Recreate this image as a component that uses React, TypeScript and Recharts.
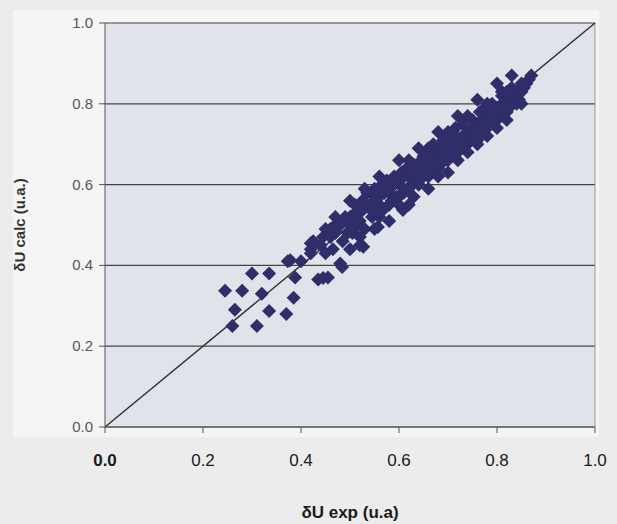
import { ScatterChart, Scatter, XAxis, YAxis, CartesianGrid, ReferenceLine } from 'recharts';

// lower-left scattered points
const outlierX = [0.245, 0.28, 0.30, 0.335, 0.32, 0.265, 0.26, 0.31, 0.335, 0.37, 0.385, 0.388, 0.373, 0.40, 0.435, 0.455, 0.48, 0.42, 0.378, 0.445, 0.484, 0.42, 0.527, 0.557, 0.608];
const outlierY = [0.337, 0.337, 0.38, 0.38, 0.33, 0.29, 0.25, 0.25, 0.287, 0.28, 0.32, 0.37, 0.41, 0.41, 0.365, 0.37, 0.405, 0.43, 0.413, 0.369, 0.396, 0.455, 0.446, 0.495, 0.537];

// main band along the diagonal
const bandX = [
  0.42, 0.425, 0.44, 0.445, 0.45, 0.46, 0.465, 0.47, 0.48, 0.485, 0.49, 0.495,
  0.50, 0.505, 0.51, 0.515, 0.52, 0.525, 0.53, 0.535, 0.54, 0.545, 0.55, 0.555,
  0.56, 0.565, 0.57, 0.575, 0.58, 0.585, 0.59, 0.595, 0.60, 0.605, 0.61, 0.615,
  0.62, 0.625, 0.63, 0.635, 0.64, 0.645, 0.65, 0.655, 0.66, 0.665, 0.67, 0.675,
  0.68, 0.685, 0.69, 0.695, 0.70, 0.705, 0.71, 0.715, 0.72, 0.725, 0.73, 0.735,
  0.74, 0.745, 0.75, 0.755, 0.76, 0.765, 0.77, 0.775, 0.78, 0.785, 0.79, 0.795,
  0.80, 0.805, 0.81, 0.815, 0.82, 0.825, 0.83, 0.835, 0.84, 0.845, 0.85, 0.855,
  0.86, 0.865, 0.87, 0.50, 0.52, 0.54, 0.56, 0.58, 0.60, 0.62, 0.64, 0.66,
  0.68, 0.70, 0.72, 0.74, 0.76, 0.78, 0.80, 0.82, 0.55, 0.57, 0.59, 0.61,
  0.63, 0.65, 0.67, 0.69, 0.71, 0.73, 0.75, 0.77, 0.79, 0.81, 0.83, 0.47,
  0.46, 0.49, 0.51, 0.53, 0.55, 0.57, 0.59, 0.61, 0.63, 0.65, 0.67, 0.69,
  0.71, 0.73, 0.75, 0.77, 0.79, 0.81, 0.83, 0.85, 0.52, 0.56, 0.60, 0.64,
  0.68, 0.72, 0.76, 0.80, 0.84, 0.58, 0.62, 0.66, 0.70, 0.74, 0.78, 0.82,
  0.50, 0.53, 0.56, 0.60, 0.64, 0.68, 0.72, 0.76, 0.80, 0.83, 0.47, 0.45,
  0.52, 0.55, 0.58, 0.62, 0.66, 0.70, 0.74, 0.78, 0.82, 0.85, 0.50, 0.63,
];
const bandY = [
  0.44, 0.46, 0.45, 0.47, 0.43, 0.47, 0.44, 0.50, 0.50, 0.46, 0.52, 0.48,
  0.52, 0.48, 0.55, 0.50, 0.53, 0.56, 0.49, 0.58, 0.55, 0.52, 0.59, 0.53,
  0.57, 0.60, 0.54, 0.61, 0.58, 0.56, 0.62, 0.57, 0.60, 0.63, 0.58, 0.64,
  0.62, 0.60, 0.65, 0.61, 0.63, 0.66, 0.62, 0.68, 0.65, 0.63, 0.67, 0.69,
  0.67, 0.65, 0.70, 0.67, 0.69, 0.72, 0.68, 0.74, 0.71, 0.69, 0.75, 0.72,
  0.73, 0.71, 0.76, 0.74, 0.75, 0.78, 0.73, 0.79, 0.77, 0.75, 0.80, 0.78,
  0.79, 0.77, 0.82, 0.80, 0.81, 0.79, 0.84, 0.82, 0.83, 0.81, 0.85, 0.84,
  0.85, 0.86, 0.87, 0.50, 0.51, 0.54, 0.55, 0.55, 0.57, 0.59, 0.60, 0.62,
  0.64, 0.66, 0.68, 0.70, 0.71, 0.74, 0.76, 0.78, 0.57, 0.58, 0.60, 0.62,
  0.64, 0.64, 0.65, 0.68, 0.70, 0.72, 0.74, 0.76, 0.77, 0.80, 0.81, 0.48,
  0.49, 0.51, 0.53, 0.55, 0.56, 0.58, 0.61, 0.62, 0.62, 0.67, 0.70, 0.71,
  0.73, 0.70, 0.72, 0.76, 0.78, 0.83, 0.80, 0.83, 0.47, 0.52, 0.55, 0.60,
  0.62, 0.66, 0.70, 0.74, 0.80, 0.60, 0.66, 0.69, 0.73, 0.77, 0.80, 0.83,
  0.56, 0.59, 0.62, 0.66, 0.69, 0.73, 0.77, 0.81, 0.85, 0.87, 0.52, 0.49,
  0.45, 0.49, 0.51, 0.55, 0.59, 0.63, 0.68, 0.72, 0.76, 0.80, 0.44, 0.57,
];

const ticks = [0, 0.2, 0.4, 0.6, 0.8, 1.0];

const points = [
  ...outlierX.map((x, i) => ({ x, y: outlierY[i] })),
  ...bandX.map((x, i) => ({ x, y: bandY[i] })),
];

const Diamond = (props: any) => {
  const { cx, cy } = props;
  const r = 7;
  return (
    <polygon
      points={`${cx},${cy - r} ${cx + r},${cy} ${cx},${cy + r} ${cx - r},${cy}`}
      fill="#2e2e6a"
    />
  );
};

const YTick = (props: any) => {
  const { x, y, payload } = props;
  return (
    <text x={x - 4} y={y + 5} textAnchor="end" fontSize={15} fill="#555" fontFamily="Liberation Sans, Arial, sans-serif">
      {payload.value.toFixed(1)}
    </text>
  );
};

const XTick = (props: any) => {
  const { x, payload } = props;
  return (
    <text x={x} y={466} textAnchor="middle" fontSize={17} fill="#1a1a1a"
      fontWeight={payload.value === 0 ? 'bold' : 'normal'}
      fontFamily="Liberation Sans, Arial, sans-serif">
      {payload.value.toFixed(1)}
    </text>
  );
};

export default function App() {
  return (
    <div style={{ position: 'absolute', left: 0, top: 0, width: 617, height: 524, background: '#ececec', fontFamily: 'Liberation Sans, Arial, sans-serif' }}>
      <div style={{ position: 'absolute', left: 13, top: 10, width: 586, height: 427, background: '#f5f5f5' }} />
      <div style={{ position: 'absolute', left: 0, top: 0 }}>
        <ScatterChart width={617} height={524} margin={{ top: 23, right: 22, left: 0, bottom: 0 }}>
          <CartesianGrid vertical={false} stroke="#444" strokeWidth={1.2} fill="#e0e3e9" fillOpacity={1} />
          <XAxis
            type="number"
            dataKey="x"
            domain={[0, 1]}
            ticks={ticks}
            height={97}
            tick={<XTick />}
            tickSize={6}
            stroke="#555"
            label={{ value: 'δU exp (u.a)', position: 'insideBottom', offset: 6, style: { fontWeight: 'bold', fontSize: 17, fill: '#1a1a1a' } }}
          />
          <YAxis
            type="number"
            dataKey="y"
            domain={[0, 1]}
            ticks={ticks}
            width={105}
            tick={<YTick />}
            tickSize={6}
            stroke="#555"
            label={{ value: 'δU calc (u.a.)', angle: -90, position: 'insideLeft', offset: 20, style: { textAnchor: 'middle', fontWeight: 'bold', fontSize: 15, fill: '#333' } }}
          />
          <ReferenceLine x={1} stroke="#999" strokeWidth={1} />
          <ReferenceLine segment={[{ x: 0, y: 0 }, { x: 1, y: 1 }]} stroke="#333" strokeWidth={1.5} />
          <Scatter data={points} shape={<Diamond />} isAnimationActive={false} />
        </ScatterChart>
      </div>
    </div>
  );
}
